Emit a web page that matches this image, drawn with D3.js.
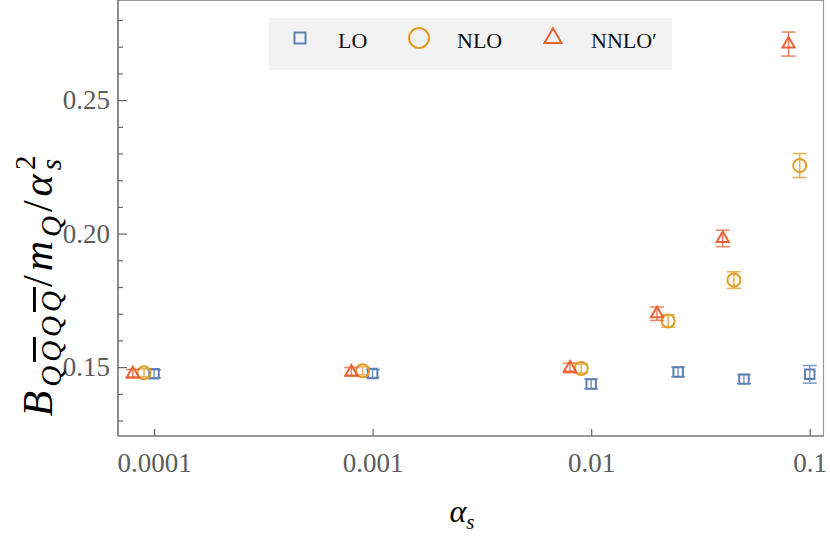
<!DOCTYPE html>
<html>
<head>
<meta charset="utf-8">
<script src="https://cdn.jsdelivr.net/npm/d3@7"></script>
<style>
  body { margin: 0; background: #fff; }
  svg { display: block; }
  .serif { font-family: "Liberation Serif", "DejaVu Serif", serif; }
</style>
</head>
<body>
<svg id="chart" width="830" height="540"></svg>
<script>
// data (LO at alpha, NLO shifted to 0.9*alpha, NNLO' to 0.8*alpha)
const alphaLO   = [0.0001, 0.001, 0.01, 0.025, 0.05, 0.1];
const alphaNLO  = [0.00009, 0.0009, 0.009, 0.0225, 0.045, 0.09];
const alphaNNLO = [0.00008, 0.0008, 0.008, 0.02, 0.04, 0.08];

const valLO   = [0.1475, 0.1476, 0.1437, 0.1482, 0.1455, 0.1473];
const errLO   = [0.0015, 0.0015, 0.0018, 0.0018, 0.0017, 0.0033];
const valNLO  = [0.1479, 0.1486, 0.1495, 0.1673, 0.1826, 0.2255];
const errNLO  = [0.0015, 0.0015, 0.0017, 0.0023, 0.0031, 0.0045];
const valNNLO = [0.1475, 0.1482, 0.1497, 0.1700, 0.1982, 0.2710];
const errNNLO = [0.0016, 0.0016, 0.0018, 0.0025, 0.0031, 0.0045];

const seriesNames = ["LO", "NLO", "NNLO\u2032"];
const xTicks = [0.0001, 0.001, 0.01, 0.1];
const xTickLabels = ["0.0001", "0.001", "0.01", "0.1"];
const yTicks = [0.15, 0.20, 0.25];
const yTickLabels = ["0.15", "0.20", "0.25"];
const yMinorTicks = [0.13, 0.14, 0.16, 0.17, 0.18, 0.19, 0.21, 0.22, 0.23, 0.24, 0.26, 0.27, 0.28];

const colours = ["#5E81B5", "#E19C24", "#EB6235"];
const shapes = [d3.symbolSquare, d3.symbolCircle, d3.symbolTriangle];

const series = [
  { name: seriesNames[0], a: alphaLO,   v: valLO,   e: errLO },
  { name: seriesNames[1], a: alphaNLO,  v: valNLO,  e: errNLO },
  { name: seriesNames[2], a: alphaNNLO, v: valNNLO, e: errNNLO }
].map((s, i) => ({
  ...s, colour: colours[i], shape: shapes[i],
  points: s.a.map((a, j) => ({ a, v: s.v[j], e: s.e[j] }))
}));

const plotLeft = 118, plotRight = 823, plotTop = 0, plotBottom = 436;

const svg = d3.select("#chart");

const x = d3.scaleLog().domain([6.84e-5, 0.115]).range([plotLeft, plotRight]);
const y = d3.scaleLinear().domain([0.1242, 0.2875]).range([plotBottom, plotTop]);

// frame
svg.append("line").attr("x1", plotLeft).attr("x2", plotRight).attr("y1", plotTop + 0.5).attr("y2", plotTop + 0.5)
  .attr("stroke", "#999").attr("stroke-width", 1.2);
svg.append("line").attr("x1", plotRight + 0.5).attr("x2", plotRight + 0.5).attr("y1", plotTop).attr("y2", plotBottom)
  .attr("stroke", "#999").attr("stroke-width", 1.2);
svg.append("line").attr("x1", plotLeft).attr("x2", plotRight + 1).attr("y1", plotBottom).attr("y2", plotBottom)
  .attr("stroke", "#777").attr("stroke-width", 1.5);
svg.append("line").attr("x1", plotLeft).attr("x2", plotLeft).attr("y1", plotTop).attr("y2", plotBottom)
  .attr("stroke", "#666").attr("stroke-width", 1.5);

// axes
svg.append("g")
  .attr("transform", `translate(${plotLeft},0)`)
  .call(d3.axisLeft(y).tickValues(yTicks).tickSize(-9).tickPadding(8)
    .tickFormat((d, i) => yTickLabels[i]));
svg.append("g")
  .attr("transform", `translate(${plotLeft},0)`)
  .call(d3.axisLeft(y).tickValues(yMinorTicks).tickSize(-5).tickFormat(""));

svg.append("g")
  .attr("transform", `translate(0,${plotBottom})`)
  .call(d3.axisBottom(x).tickValues(xTicks).tickSize(-7).tickPadding(17)
    .tickFormat((d, i) => xTickLabels[i]));

svg.selectAll(".domain").remove();
svg.selectAll(".tick line").attr("stroke", "#666").attr("stroke-width", 1.2);
svg.selectAll(".tick text")
  .attr("class", "serif")
  .attr("font-size", 27)
  .attr("fill", "#5c5c5c");

// error bars + markers
const capW = 7;
series.forEach(s => {
  const g = svg.append("g");
  const eb = g.selectAll(".eb").data(s.points).join("g")
    .attr("stroke", s.colour).attr("stroke-width", 1.5).attr("opacity", 0.8);
  eb.append("line")
    .attr("x1", d => x(d.a)).attr("x2", d => x(d.a))
    .attr("y1", d => y(d.v - d.e)).attr("y2", d => y(d.v + d.e));
  eb.append("line")
    .attr("x1", d => x(d.a) - capW).attr("x2", d => x(d.a) + capW)
    .attr("y1", d => y(d.v + d.e)).attr("y2", d => y(d.v + d.e));
  eb.append("line")
    .attr("x1", d => x(d.a) - capW).attr("x2", d => x(d.a) + capW)
    .attr("y1", d => y(d.v - d.e)).attr("y2", d => y(d.v - d.e));

  const size = s.shape === d3.symbolCircle ? 133 : (s.shape === d3.symbolSquare ? 90 : 64);
  g.selectAll(".pt").data(s.points).join("path")
    .attr("transform", d => `translate(${x(d.a)},${y(d.v)})`)
    .attr("d", d3.symbol(s.shape, size))
    .attr("fill", "none")
    .attr("stroke", s.colour)
    .attr("stroke-width", 2);
});

// legend
const legend = svg.append("g");
legend.append("rect").attr("x", 269).attr("y", 18).attr("width", 403).attr("height", 52)
  .attr("fill", "#f2f2f2");
const legX = [300, 419, 553];
const legSizes = [121, 314, 125];
series.forEach((s, i) => {
  legend.append("path")
    .attr("transform", `translate(${legX[i]},38)`)
    .attr("d", d3.symbol(s.shape, legSizes[i]))
    .attr("fill", "none").attr("stroke", s.colour).attr("stroke-width", 2);
  legend.append("text")
    .attr("class", "serif")
    .attr("x", legX[i] + 38).attr("y", 48)
    .attr("font-size", 22).attr("fill", "#111")
    .text(s.name);
});

// axis labels
svg.append("text")
  .attr("class", "serif")
  .attr("x", 462).attr("y", 522)
  .attr("text-anchor", "middle")
  .attr("font-size", 32).attr("font-style", "italic")
  .call(t => {
    t.append("tspan").text("\u03b1");
    t.append("tspan").attr("font-size", 21).attr("dy", 7).text("s");
  });

const yl = svg.append("text")
  .attr("class", "serif")
  .attr("transform", "translate(52,284) rotate(-90)")
  .attr("text-anchor", "middle")
  .attr("letter-spacing", 4)
  .attr("font-size", 42).attr("font-style", "italic");
yl.append("tspan").text("B");
yl.append("tspan").attr("font-size", 29).attr("dy", 9).text("Q");
yl.append("tspan").attr("font-size", 29).attr("text-decoration", "overline").text("Q");
yl.append("tspan").attr("font-size", 29).text("Q");
yl.append("tspan").attr("font-size", 29).attr("text-decoration", "overline").text("Q");
yl.append("tspan").attr("dy", -9).attr("font-style", "normal").text("/");
yl.append("tspan").text("m");
yl.append("tspan").attr("font-size", 29).attr("dy", 9).text("Q");
yl.append("tspan").attr("dy", -9).attr("font-style", "normal").text("/");
yl.append("tspan").text("\u03b1");
yl.append("tspan").attr("font-size", 29).attr("dy", 9).text("s");
yl.append("tspan").attr("font-size", 29).attr("font-style", "normal").attr("dx", -15).attr("dy", -26).text("2");
</script>
</body>
</html>
